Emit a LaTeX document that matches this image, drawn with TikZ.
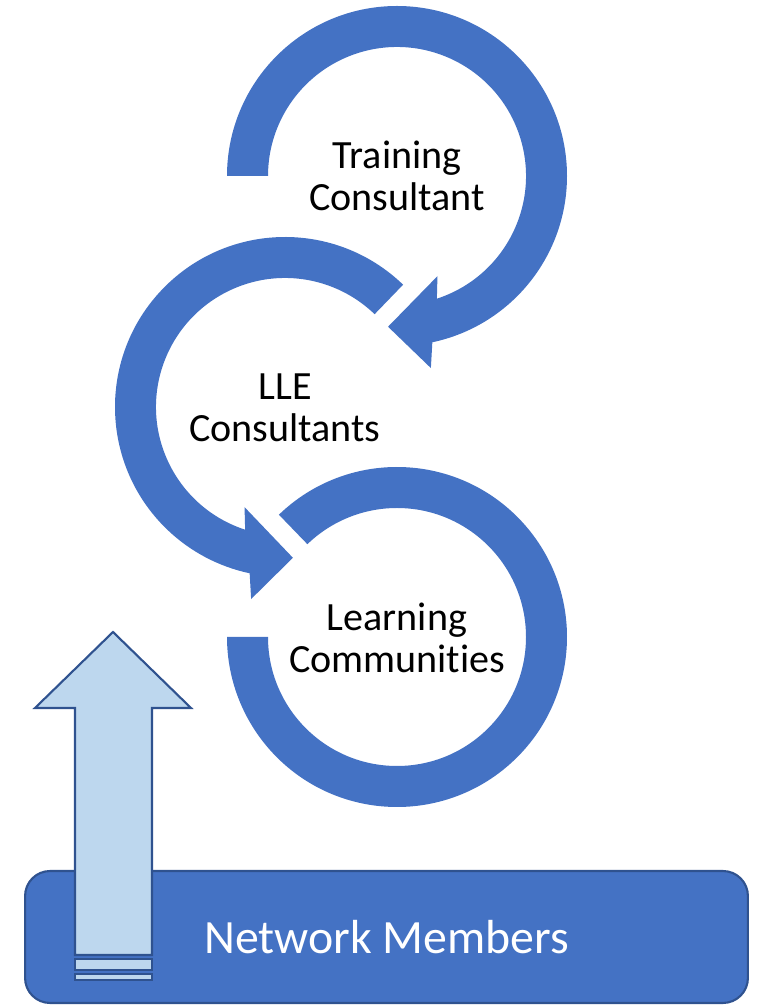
\documentclass[tikz,border=0pt]{standalone}
\usepackage{fontspec}
\setmainfont{Carlito}[Ligatures=NoCommon]
\usetikzlibrary{positioning}
\usetikzlibrary{calc}
\definecolor{ringblue}{RGB}{68,114,196}
\definecolor{edgeblue}{RGB}{47,82,143}
\definecolor{paleblue}{RGB}{189,215,238}

\begin{document}
\begin{tikzpicture}[x=0.02cm,y=0.02cm,
		ring/.style={fill=ringblue},
		ringtext/.style={align=center,font=\fontsize{22.8}{24}\selectfont},
		uparrow/.style={draw=edgeblue,fill=paleblue,line width=1.2pt,line join=miter}]
		\useasboundingbox (0,0) rectangle (764,1005);
		\coordinate (c_1) at (397,829);
		\coordinate (c_2) at (285,598);
		\coordinate (c_3) at (397,368);
		% training consultant ring
		\fill [ring] ($(c_1)+(180:170)$) arc [start angle=180,end angle=-78,radius=170] -- ($(c_1)+(-80:195)$) -- ($(c_1)+(-93.4:151)$) -- ($(c_1)+(-68:108)$) -- ($(c_1)+(-72:129)$) arc [start angle=-72,end angle=180,radius=129] -- cycle;
		% lle ring
		\fill [ring] ($(c_2)+(46:170)$) arc [start angle=46,end angle=258,radius=170] -- ($(c_2)+(260:195)$) -- ($(c_2)+(273:151)$) -- ($(c_2)+(248:108)$) -- ($(c_2)+(252:129)$) arc [start angle=252,end angle=46,radius=129] -- cycle;
		% learning communities ring
		\fill [ring] ($(c_3)+(134:170)$) arc [start angle=134,end angle=-180,radius=170] -- ($(c_3)+(180:129)$) arc [start angle=-180,end angle=134,radius=129] -- cycle;
		\node (training) [ringtext] at (397,829) {Training\\Consultant};
		\node (lle) [ringtext] at (285,597) {LLE\\Consultants};
		\node (learning) [ringtext] at (397,367) {Learning\\Communities};
		% network members
		\node (members) [draw=edgeblue,fill=ringblue,line width=1.2pt,rounded corners=0.5cm,minimum width=14.46cm,minimum height=2.64cm,inner sep=0pt,text=white,font=\fontsize{27.2}{30}\selectfont] at (386.5,68) {Network Members};
		\draw [uparrow] (75,50) -- (75,297) -- (35,297) -- (113,373) -- (191,297) -- (152,297) -- (152,50) -- cycle;
		\draw [uparrow] (75,35) rectangle (152,46);
		\draw [uparrow] (75,25) rectangle (152,31);
	\end{tikzpicture}
\end{document}
